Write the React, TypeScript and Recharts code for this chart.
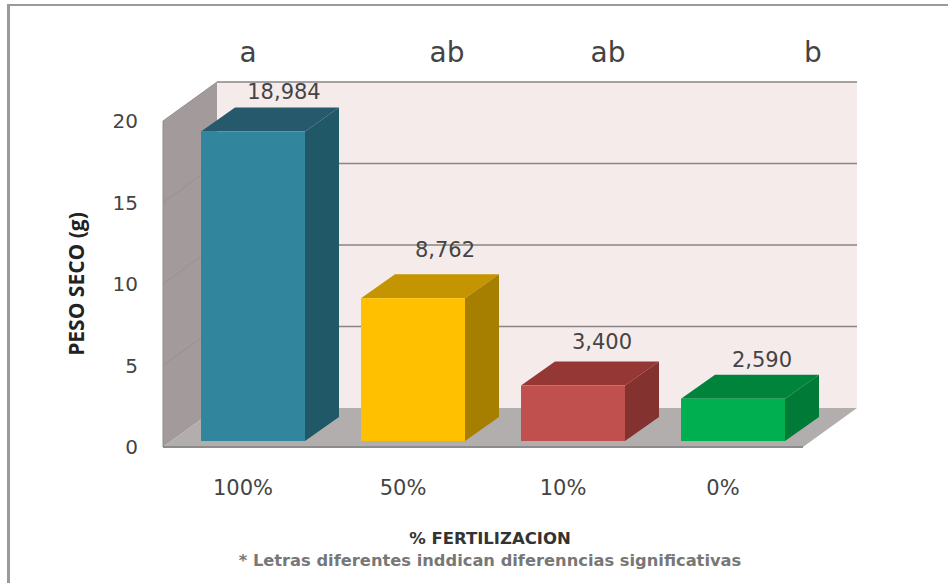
import React from 'react';
import { BarChart, Bar, XAxis, YAxis, Label, LabelList, ReferenceArea } from 'recharts';

const categories = ['100%', '50%', '10%', '0%'];
const pesoSeco = [18.984, 8.762, 3.4, 2.59];
const pesoLabels = ['18,984', '8,762', '3,400', '2,590'];
const letters = ['a', 'ab', 'ab', 'b'];
const yTicks = [0, 5, 10, 15, 20];
const yMax = 20;

const data = categories.map((name, i) => ({ name, peso: pesoSeco[i], label: pesoLabels[i] }));

// front, top, side of each box
const barColors = [
  ['#31859c', '#25596b', '#215868'],
  ['#ffc000', '#c49500', '#a67f00'],
  ['#c0504d', '#953735', '#843230'],
  ['#00b050', '#00843c', '#007a37'],
];

const font = '"DejaVu Sans", sans-serif';
const textColor = '#444';
// 3D offsets: back wall relative to front plane, box depth
const wallDx = 54;
const wallDy = -39;
const barDx = 10;
const barDy = -6;
const boxDx = 34;
const boxDy = -24;
// hand placement of the value labels relative to the box front
const labelNudge = [
  [41, -39],
  [42, -47],
  [39, -43],
  [39, -38],
];
const letterX = [248, 447, 608, 813];

const pts = (p: number[][]) => p.map((q) => q.join(',')).join(' ');

// ReferenceArea only gives the plot rectangle, so walls and wall lines hang off it
const Walls = ({ x, y, width, height }: any) => {
  const b = y + height;
  const r = x + width;
  return (
    <g>
      <polygon points={pts([[x + wallDx, y + wallDy], [r + wallDx, y + wallDy], [r + wallDx, b + wallDy], [x + wallDx, b + wallDy]])} fill="#f5ebea" />
      <polygon points={pts([[x, y], [x + wallDx, y + wallDy], [x + wallDx, b + wallDy], [x, b]])} fill="#a39b9b" />
      <polygon points={pts([[x, b], [x + wallDx, b + wallDy], [r + wallDx, b + wallDy], [r, b]])} fill="#b3aeae" />
      {yTicks.slice(1).map((t) => {
        const ly = b - (height * t) / yMax;
        return (
          <g key={t}>
            <line x1={x + wallDx} y1={ly + wallDy} x2={r + wallDx} y2={ly + wallDy} stroke="#8a8484" strokeWidth={1.5} />
            <line x1={x} y1={ly} x2={x + wallDx} y2={ly + wallDy} stroke="#969090" strokeWidth={1} />
          </g>
        );
      })}
      <line x1={x} y1={b} x2={r} y2={b} stroke="#8c8c8c" strokeWidth={2} />
      <line x1={x} y1={y} x2={x} y2={b} stroke="#8c8c8c" strokeWidth={1} />
    </g>
  );
};

const Box = ({ x, y, width, height, index }: any) => {
  const [front, top, side] = barColors[index];
  const fx = x + barDx;
  const fy = y + barDy;
  const r = fx + width;
  const b = fy + height;
  return (
    <g>
      <polygon points={pts([[fx, fy], [fx + boxDx, fy + boxDy], [r + boxDx, fy + boxDy], [r, fy]])} fill={top} />
      <polygon points={pts([[r, fy], [r + boxDx, fy + boxDy], [r + boxDx, b + boxDy], [r, b]])} fill={side} />
      <rect x={fx} y={fy} width={width} height={height} fill={front} />
    </g>
  );
};

const ValueLabel = ({ x, y, width, index, value }: any) => (
  <text
    x={x + width / 2 + labelNudge[index][0]}
    y={y + labelNudge[index][1]}
    textAnchor="middle"
    fontFamily={font}
    fontSize={21}
    fill={textColor}
  >
    {value}
  </text>
);

const App = () => (
  <div style={{ position: 'absolute', left: 0, top: 0, width: 948, height: 583, background: '#fff', overflow: 'hidden' }}>
    <div
      style={{
        position: 'absolute',
        left: 7,
        top: 4,
        width: 960,
        height: 600,
        borderLeft: '3px solid #9a9a9a',
        borderTop: '2px solid #9a9a9a',
      }}
    />
    <BarChart
      width={948}
      height={583}
      data={data}
      margin={{ top: 121, right: 145, bottom: 106, left: 123 }}
      barSize={104}
      style={{ position: 'absolute', left: 0, top: 0 }}
    >
      <XAxis
        dataKey="name"
        height={30}
        axisLine={false}
        tickLine={false}
        tickMargin={27}
        tick={{ fontFamily: font, fontSize: 21, fill: textColor }}
      >
        <Label value="% FERTILIZACION" position="bottom" offset={55} dx={7} fontFamily={font} fontSize={16.5} fontWeight="bold" fill="#333" />
      </XAxis>
      <YAxis
        width={40}
        domain={[0, yMax]}
        ticks={yTicks}
        axisLine={false}
        tickLine={false}
        tickMargin={19}
        tick={{ fontFamily: font, fontSize: 20, fill: textColor }}
      >
        <Label
          value="PESO SECO (g)"
          angle={-90}
          position="insideLeft"
          offset={-46}
          textAnchor="middle"
          fontFamily={'"Open Sans", sans-serif'}
          fontSize={21}
          fontWeight="bold"
          fill="#222"
        />
      </YAxis>
      <ReferenceArea y1={0} y2={yMax} shape={Walls} ifOverflow="visible" />
      <Bar dataKey="peso" shape={Box} isAnimationActive={false}>
        <LabelList dataKey="label" content={ValueLabel} />
      </Bar>
      {letters.map((l, i) => (
        <text key={i} x={letterX[i]} y={62} textAnchor="middle" fontFamily={font} fontSize={28} fill={textColor}>
          {l}
        </text>
      ))}
      <text x={490} y={566} textAnchor="middle" fontFamily={font} fontSize={16.3} fontWeight="bold" fill="#777">
        * Letras diferentes inddican diferenncias significativas
      </text>
    </BarChart>
  </div>
);

export default App;
